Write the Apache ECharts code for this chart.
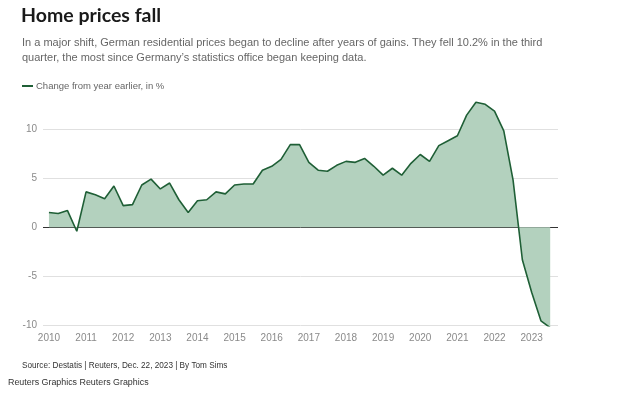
<!DOCTYPE html>
<html>
<head>
<meta charset="utf-8">
<script src="https://cdn.jsdelivr.net/npm/echarts@6/dist/echarts.min.js"></script>
<style>
html,body{margin:0;padding:0;background:#fff;}
#chart{width:617px;height:394px;}
</style>
</head>
<body>
<div id="chart"></div>
<script>
// Quarters 2010 Q1 .. 2023 Q3
const years = [2010,2011,2012,2013,2014,2015,2016,2017,2018,2019,2020,2021,2022,2023];
const yTicks = [-10,-5,0,5,10];
const changeValues = [
  1.5, 1.4, 1.7, -0.4,   // 2010
  3.6, 3.3, 2.9, 4.2,    // 2011
  2.2, 2.3, 4.3, 4.9,    // 2012
  3.9, 4.5, 2.8, 1.5,    // 2013
  2.7, 2.8, 3.6, 3.4,    // 2014
  4.3, 4.4, 4.4, 5.8,    // 2015
  6.2, 6.9, 8.4, 8.4,    // 2016
  6.6, 5.8, 5.7, 6.3,    // 2017
  6.7, 6.6, 7.0, 6.2,    // 2018
  5.3, 6.0, 5.3, 6.5,    // 2019
  7.4, 6.7, 8.3, 8.8,    // 2020
  9.3, 11.4, 12.7, 12.5, // 2021
  11.8, 9.8, 4.8, -3.3,  // 2022
  -6.6, -9.5, -10.2      // 2023
];

const seriesData = changeValues.map((v, i) => [years[0] + i / 4, v]);

const chart = echarts.init(document.getElementById('chart'), null, {renderer: 'canvas'});
const FONT = '"Liberation Sans", Arial, sans-serif';
chart.setOption({
  animation: false,
  backgroundColor: '#ffffff',
  title: [
    {text: 'Home prices fall', left: 21, top: 6, padding: 0,
     textStyle: {fontFamily: 'Lato, "Open Sans", sans-serif', fontSize: 19.5, fontWeight: 'bold', color: '#1a1a1a'}},
    {text: 'In a major shift, German residential prices began to decline after years of gains. They fell 10.2% in the third\nquarter, the most since Germany\u2019s statistics office began keeping data.',
     left: 22, top: 35, padding: 0,
     textStyle: {fontFamily: FONT, fontSize: 11, fontWeight: 'normal', color: '#666', lineHeight: 15}},
    {text: 'Source: Destatis | Reuters, Dec. 22, 2023 | By Tom Sims', left: 22, top: 362, padding: 0,
     textStyle: {fontFamily: FONT, fontSize: 8.2, fontWeight: 'normal', color: '#333'}},
    {text: 'Reuters Graphics Reuters Graphics', left: 8, top: 378, padding: 0,
     textStyle: {fontFamily: FONT, fontSize: 8.9, fontWeight: 'normal', color: '#333'}}
  ],
  legend: {
    left: 22, top: 81, padding: 0,
    itemWidth: 11, itemHeight: 2, itemGap: 4,
    icon: 'rect',
    textStyle: {fontFamily: FONT, fontSize: 9.5, color: '#666', padding: [0,0,0,-2]},
    data: [{name: 'Change from year earlier, in %'}]
  },
  grid: {left: 43, right: 59, top: 79.7, bottom: 68.3, containLabel: false},
  xAxis: {
    type: 'value',
    min: 2009.84, max: 2023.71,
    axisLine: {show: false},
    axisTick: {show: false},
    splitLine: {show: false},
    axisLabel: {
      customValues: years,
      formatter: v => String(Math.round(v)),
      color: '#8a8a8a', fontFamily: FONT, fontSize: 10, margin: 8
    }
  },
  yAxis: {
    type: 'value',
    min: -10, max: 15, interval: 5,
    axisLine: {show: false},
    axisTick: {show: false},
    axisLabel: {
      showMaxLabel: false,
      formatter: v => (v === 15 ? '' : String(v)),
      color: '#8a8a8a', fontFamily: FONT, fontSize: 10, margin: 6
    },
    splitLine: {show: true, showMaxLine: false, lineStyle: {color: '#e0e0e0', width: 1}}
  },
  series: [{
    name: 'Change from year earlier, in %',
    type: 'line',
    data: seriesData,
    symbol: 'none',
    smooth: false,
    lineStyle: {color: '#1f5f36', width: 1.6},
    itemStyle: {color: '#1f5f36'},
    areaStyle: {color: '#b3d1be', opacity: 1, origin: 0},
    markLine: {
      silent: true, symbol: 'none', label: {show: false},
      lineStyle: {color: '#333', width: 1, type: 'solid'},
      data: [{yAxis: 0}],
      z: 1
    },
    z: 2
  }]
});
</script>
</body>
</html>
